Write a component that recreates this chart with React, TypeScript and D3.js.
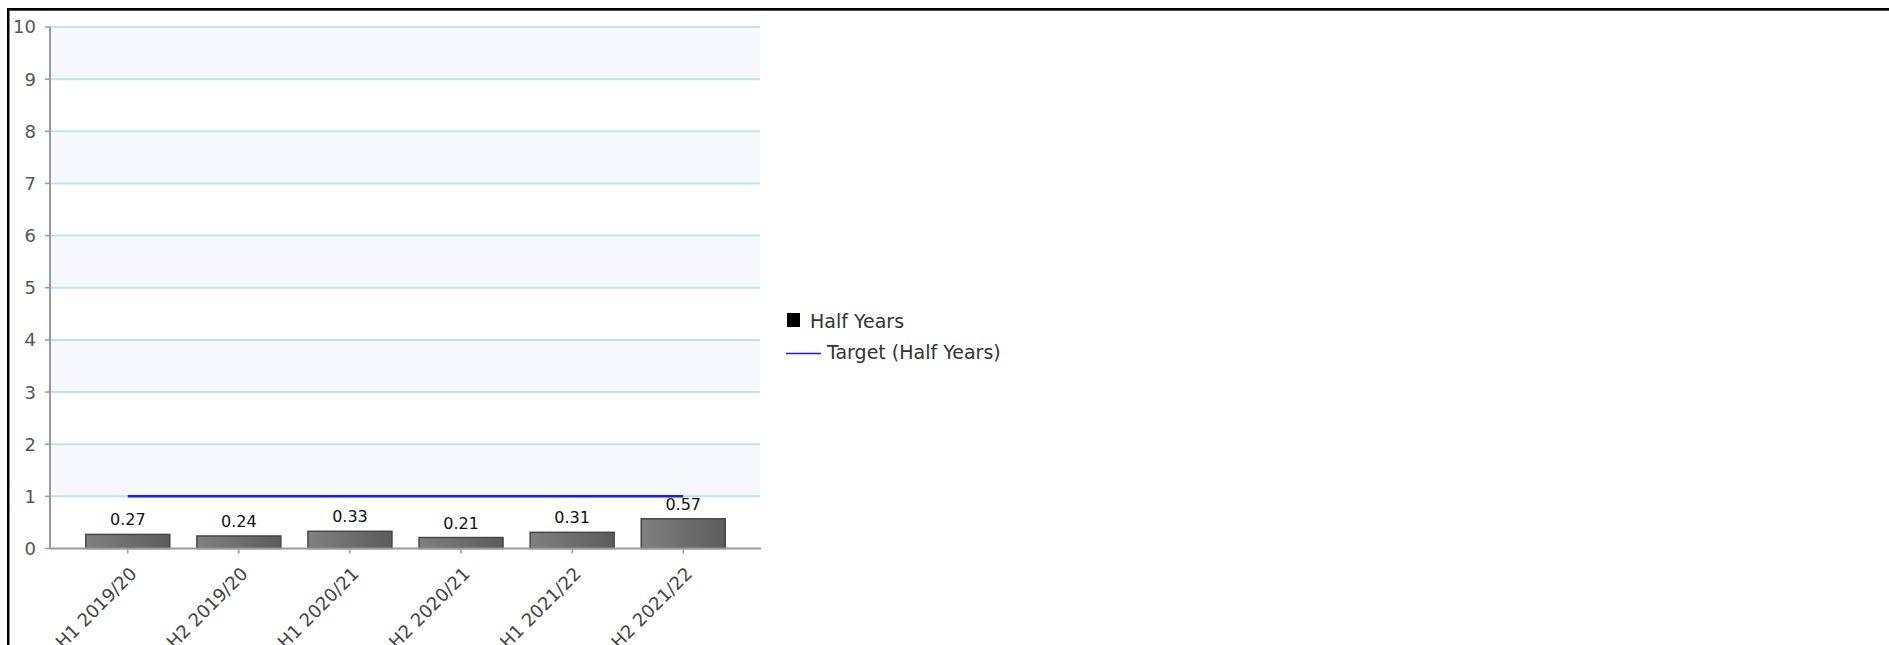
import React from "react";
import * as d3 from "d3";

const categories = ["H1 2019/20", "H2 2019/20", "H1 2020/21", "H2 2020/21", "H1 2021/22", "H2 2021/22"];
const halfYears = [0.27, 0.24, 0.33, 0.21, 0.31, 0.57];
const target = [1, 1, 1, 1, 1, 1];
const yTicks = [0, 1, 2, 3, 4, 5, 6, 7, 8, 9, 10];
const legendItems = ["Half Years", "Target (Half Years)"];

const W = 1889;
const H = 645;
const FONT = "'DejaVu Sans', Verdana, sans-serif";

export default function App() {
  const left = 50;
  const right = 761;
  const top = 27;
  const bottom = 548.5;

  const x = d3.scaleBand<string>().domain(categories).range([left, right]).paddingInner(0).paddingOuter(0.2);
  const y = d3.scaleLinear().domain([0, 10]).range([bottom, top]);
  const barW = 84;

  const line = d3
    .line<number>()
    .x((_, i) => (x(categories[i]) as number) + x.bandwidth() / 2)
    .y((d) => y(d));

  return (
    <svg
      width={W}
      height={H}
      style={{ position: "absolute", left: 0, top: 0, display: "block", background: "#fff" }}
      fontFamily={FONT}
    >
      <defs>
        <linearGradient id="barGrad" x1="0" x2="1" y1="0" y2="0">
          <stop offset="0%" stopColor="#808080" />
          <stop offset="100%" stopColor="#5c5c5c" />
        </linearGradient>
      </defs>
      {/* frame */}
      <rect x={7} y={8} width={W - 7} height={2.7} fill="#000" />
      <rect x={7} y={8} width={2.5} height={H - 8} fill="#000" />

      {/* alternating bands */}
      {yTicks.slice(0, -1).map((t) =>
        t % 2 === 1 ? (
          <rect key={"b" + t} x={left} y={y(t + 1)} width={right - left - 1} height={y(t) - y(t + 1)} fill="#f7f8fe" />
        ) : null
      )}
      {/* gridlines */}
      {yTicks.slice(1).map((t) => (
        <line key={"g" + t} x1={left} x2={right - 1} y1={y(t)} y2={y(t)} stroke="#bfe5ea" strokeWidth={2} />
      ))}

      {/* y axis */}
      <line x1={left} x2={left} y1={top} y2={bottom} stroke="#9a9a9a" strokeWidth={2} />
      {yTicks.map((t) => (
        <g key={"yt" + t}>
          <line x1={left - 5} x2={left} y1={y(t)} y2={y(t)} stroke="#9a9a9a" strokeWidth={1.5} />
          <text x={36} y={y(t)} dy="0.36em" textAnchor="end" fontSize={18} fill="#555">
            {t}
          </text>
        </g>
      ))}

      {/* bars */}
      {halfYears.map((v, i) => {
        const cx = (x(categories[i]) as number) + x.bandwidth() / 2;
        return (
          <g key={"bar" + i}>
            <rect
              x={cx - barW / 2}
              y={y(v)}
              width={barW}
              height={y(0) - y(v)}
              fill="url(#barGrad)"
              stroke="#474747"
              strokeWidth={1.5}
            />
            <text x={cx} y={y(v) - 9} textAnchor="middle" fontSize={16} fill="#111">
              {v.toFixed(2)}
            </text>
          </g>
        );
      })}

      {/* x axis */}
      <line x1={left} x2={right} y1={bottom} y2={bottom} stroke="#9a9a9a" strokeWidth={2} />
      {categories.map((c) => {
        const cx = (x(c) as number) + x.bandwidth() / 2;
        return (
          <g key={"xt" + c}>
            <line x1={cx} x2={cx} y1={bottom} y2={bottom + 5} stroke="#9a9a9a" strokeWidth={1.5} />
            <text
              transform={`translate(${cx + 10},${575}) rotate(-45)`}
              textAnchor="end"
              fontSize={18}
              fill="#444"
            >
              {c}
            </text>
          </g>
        );
      })}

      {/* target line */}
      <path d={line(target) || ""} fill="none" stroke="#1a1aff" strokeWidth={2.5} />

      {/* legend */}
      <rect x={787} y={313} width={13} height={14} fill="#000" />
      <text x={810} y={328} fontSize={19} fill="#333">
        {legendItems[0]}
      </text>
      <line x1={786} x2={821} y1={353.5} y2={353.5} stroke="#1a1aff" strokeWidth={1.5} />
      <text x={827} y={359} fontSize={19} fill="#333">
        {legendItems[1]}
      </text>
    </svg>
  );
}
